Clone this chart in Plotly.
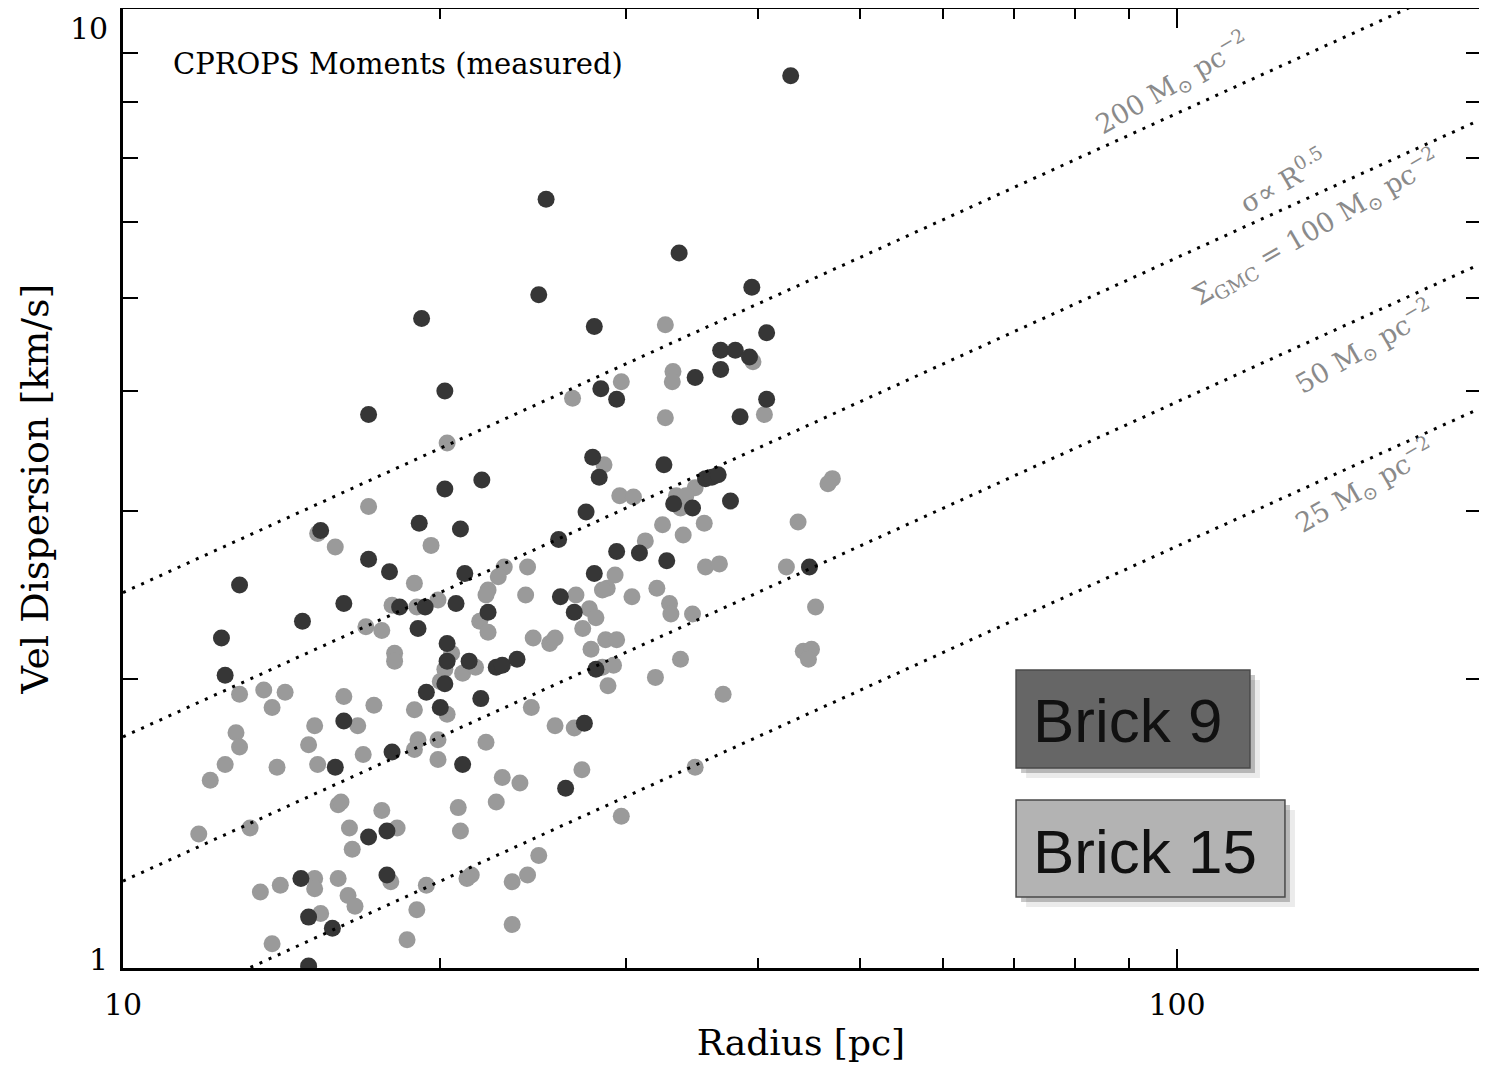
import math
import numpy as np
import plotly.graph_objects as go

# ---------------- data ----------------
# Brick 9 (dark points): radius [pc], velocity dispersion [km/s]
b9_radius = [43.0, 25.2, 33.7, 24.8, 39.5, 19.2, 28.0, 40.8, 36.9, 38.1,
             39.3, 36.9, 34.9, 28.4, 20.2, 29.4, 40.8, 17.1, 38.5, 27.9,
             32.6, 28.3, 35.7, 36.2, 36.7, 21.9, 20.2, 33.3, 34.7, 37.7,
             27.5, 19.1, 20.9, 15.4, 25.9, 29.4, 30.9, 17.1, 32.8, 44.8,
             17.9, 21.1, 28.0, 12.9, 26.0, 20.7, 16.2, 18.3, 19.35, 22.2,
             26.8, 14.8, 19.05, 12.4, 20.3, 21.3, 20.3, 22.6, 22.9, 23.65,
             28.1, 12.5, 20.2, 19.4, 21.85, 20.0, 16.2, 27.4, 18.0, 15.9,
             21.0, 26.3, 17.1, 17.8, 17.8, 14.75, 15.0, 15.8, 15.0]
b9_sigma = [8.53, 6.34, 5.57, 5.04, 5.13, 4.76, 4.67, 4.60, 4.41, 4.41,
            4.34, 4.21, 4.13, 4.02, 4.00, 3.92, 3.92, 3.78, 3.76, 3.41,
            3.35, 3.25, 3.24, 3.25, 3.27, 3.23, 3.16, 3.05, 3.02, 3.07,
            2.99, 2.91, 2.87, 2.86, 2.80, 2.72, 2.71, 2.67, 2.66, 2.62,
            2.59, 2.58, 2.58, 2.51, 2.44, 2.40, 2.40, 2.38, 2.38, 2.35,
            2.35, 2.30, 2.26, 2.21, 2.18, 2.09, 2.09, 2.06, 2.07, 2.10,
            2.05, 2.02, 1.98, 1.94, 1.91, 1.87, 1.81, 1.80, 1.68, 1.62,
            1.63, 1.54, 1.37, 1.39, 1.25, 1.24, 1.13, 1.10, 1.005]

# Brick 15 (light points)
b15_radius = [26.7, 29.7, 20.3, 32.7, 39.6, 33.25, 33.2, 40.6, 32.7, 17.1,
              15.3, 15.9, 18.9, 18.0, 17.0, 17.6, 18.1, 18.1, 12.9, 13.6,
              14.25, 13.85, 16.2, 17.3, 28.6, 29.6, 19.6, 23.0, 24.2, 22.7,
              29.3, 28.8, 28.5, 22.2, 22.1, 24.1, 26.9, 19.0, 19.9, 27.7,
              28.1, 21.8, 22.2, 27.3, 24.5, 25.4, 25.7, 27.8, 28.7, 29.4,
              20.5, 20.2, 21.0, 21.6, 28.5, 29.2, 28.85, 20.0, 18.9, 24.4,
              34.9, 30.5, 33.5, 34.2, 33.8, 47.1, 46.65, 32.5, 34.0, 35.6,
              43.7, 31.3, 35.7, 36.8, 42.6, 32.1, 30.4, 33.0, 33.1, 34.7,
              45.4, 33.8, 44.2, 45.0, 44.7, 32.0, 37.1, 12.8, 12.9, 12.5,
              12.1, 14.0, 15.2, 16.7, 15.0, 15.3, 16.9, 16.0, 16.1, 17.6,
              16.4, 18.2, 16.5, 11.8, 13.2, 13.5, 14.1, 15.2, 15.2, 16.0,
              16.35, 16.6, 17.95, 15.4, 13.85, 20.3, 25.7, 26.8, 19.05, 18.9,
              19.9, 19.9, 22.1, 22.9, 23.8, 27.25, 20.8, 22.6, 20.9, 29.7,
              24.8, 19.4, 21.2, 21.4, 23.4, 24.2, 19.0, 23.4, 18.6, 34.9]
b15_sigma = [3.93, 4.09, 3.53, 4.69, 4.29, 4.19, 4.09, 3.78, 3.75, 3.03,
             2.84, 2.75, 2.52, 2.39, 2.27, 2.25, 2.13, 2.09, 1.93, 1.95,
             1.94, 1.87, 1.92, 1.88, 3.35, 3.11, 2.76, 2.62, 2.62, 2.56,
             2.57, 2.49, 2.48, 2.48, 2.45, 2.45, 2.45, 2.38, 2.42, 2.37,
             2.32, 2.30, 2.24, 2.26, 2.21, 2.18, 2.21, 2.15, 2.20, 2.20,
             2.13, 2.05, 2.03, 2.06, 2.06, 2.07, 1.97, 1.99, 1.86, 1.87,
             3.17, 3.10, 3.11, 3.11, 3.02, 3.24, 3.20, 2.90, 2.83, 2.91,
             2.92, 2.79, 2.62, 2.64, 2.62, 2.49, 2.44, 2.40, 2.34, 2.34,
             2.38, 2.10, 2.14, 2.15, 2.10, 2.01, 1.93, 1.76, 1.70, 1.63,
             1.57, 1.62, 1.79, 1.79, 1.71, 1.63, 1.67, 1.48, 1.49, 1.46,
             1.40, 1.40, 1.33, 1.38, 1.40, 1.20, 1.22, 1.24, 1.21, 1.24,
             1.19, 1.16, 1.23, 1.14, 1.06, 1.84, 1.79, 1.78, 1.73, 1.69,
             1.73, 1.65, 1.72, 1.58, 1.56, 1.61, 1.47, 1.49, 1.39, 1.44,
             1.31, 1.22, 1.24, 1.25, 1.23, 1.25, 1.15, 1.11, 1.07, 1.62]

# constant surface-density model lines: sigma = C * sqrt(Sigma * R)
surface_densities = [200, 100, 50, 25]
SIGMA_COEFF = 0.0551

x_tick_vals = [10, 100]
x_tick_text = ["10", "100"]
x_minor_vals = [20, 30, 40, 50, 60, 70, 80, 90]
y_tick_vals = [1, 10]
y_tick_text = ["1", "10"]
y_minor_vals = [2, 3, 4, 5, 6, 7, 8, 9]

X_LOG_RANGE = [1.0, 2.2865]
Y_LOG_RANGE = [0.0, 1.0005]

# ---------------- styles ----------------
DARK = "#363636"
LIGHT = "#9a9a9a"
SERIF = "DejaVu Serif"
LABEL_GREY = "#8a8a8a"
PLOT_W = 1356.0

fig = go.Figure()

fig.add_trace(go.Scatter(x=b15_radius, y=b15_sigma, mode="markers", name="Brick 15",
                         marker=dict(color=LIGHT, size=17, line=dict(width=0))))
fig.add_trace(go.Scatter(x=b9_radius, y=b9_sigma, mode="markers", name="Brick 9",
                         marker=dict(color=DARK, size=17, line=dict(width=0))))

r_grid = np.logspace(X_LOG_RANGE[0], X_LOG_RANGE[1], 200)
for sd in surface_densities:
    fig.add_trace(go.Scatter(x=r_grid, y=SIGMA_COEFF * np.sqrt(sd * r_grid), mode="lines",
                             name=f"{sd} Msun/pc2", hoverinfo="skip",
                             line=dict(color="black", width=3, dash="3px,7px")))

# empty trace that carries the mirrored (top / right) tick axes
fig.add_trace(go.Scatter(x=[], y=[], xaxis="x2", yaxis="y2", showlegend=False, hoverinfo="skip"))

# line labels (paper coordinates), rotated along the lines
line_labels = [
    ("200 M<sub>⊙</sub> pc<sup>−2</sup>", 0.7736, 0.9228),
    ("σ∝ R<sup>0.5</sup>", 0.8555, 0.8217),
    ("Σ<sub>GMC</sub> = 100 M<sub>⊙</sub> pc<sup>−2</sup>", 0.8798, 0.7717),
    ("50 M<sub>⊙</sub> pc<sup>−2</sup>", 0.9152, 0.6475),
    ("25 M<sub>⊙</sub> pc<sup>−2</sup>", 0.9152, 0.5026),
]
for txt, px, py in line_labels:
    fig.add_annotation(text=txt, x=px, y=py, xref="paper", yref="paper",
                       showarrow=False, textangle=-30, xanchor="center", yanchor="middle",
                       font=dict(family=SERIF, size=27, color=LABEL_GREY))

fig.add_annotation(text="CPROPS Moments (measured)", x=0.0352, y=0.9427, xref="paper", yref="paper",
                   showarrow=False, xanchor="left", yanchor="middle",
                   font=dict(family=SERIF, size=29, color="black"))

# y tick labels (placed like the reference: just inside the axis ends)
y_label_anchor = [("bottom", -11), ("top", 0)]
for val, txt, (anchor, shift) in zip(y_tick_vals, y_tick_text, y_label_anchor):
    fig.add_annotation(text=txt, x=-13 / PLOT_W, y=math.log10(val), xref="paper", yref="y",
                       showarrow=False, xanchor="right", yanchor=anchor, yshift=shift,
                       font=dict(family=SERIF, size=30, color="black"))

# legend boxes
boxes = [
    ("Brick 9", "#666666", 0.6586, 0.8311, 0.2086, 0.3107, 0.2586),
    ("Brick 15", "#b3b3b3", 0.6586, 0.8569, 0.0740, 0.1752, 0.1220),
]
dx, dy = 5 / PLOT_W, 5 / 959
for label, fill, x0, x1, y0, y1, ty in boxes:
    fig.add_shape(type="rect", xref="paper", yref="paper", x0=x0 + 2 * dx, x1=x1 + 2 * dx,
                  y0=y0 - 2 * dy, y1=y1 - 2 * dy, fillcolor="rgba(0,0,0,0.08)", line=dict(width=0))
    fig.add_shape(type="rect", xref="paper", yref="paper", x0=x0 + dx, x1=x1 + dx,
                  y0=y0 - dy, y1=y1 - dy, fillcolor="rgba(0,0,0,0.22)", line=dict(width=0))
    fig.add_shape(type="rect", xref="paper", yref="paper", x0=x0, x1=x1, y0=y0, y1=y1,
                  fillcolor=fill, line=dict(color="#4a4a4a", width=1.5))
    fig.add_annotation(text=label, x=0.6695, y=ty, xref="paper", yref="paper", showarrow=False,
                       xanchor="left", yanchor="middle",
                       font=dict(family="Liberation Sans", size=62, color="#111111"))

axis_common = dict(type="log", showgrid=False, zeroline=False, showline=True, linecolor="black",
                   linewidth=3, ticks="inside", tickwidth=2, tickcolor="black", mirror=True,
                   tickfont=dict(family=SERIF, size=30, color="black"))

minor_style = dict(tickmode="array", ticks="inside", tickwidth=2, tickcolor="black", showgrid=False)

fig.update_layout(
    xaxis=dict(**axis_common, range=X_LOG_RANGE, tickmode="array", tickvals=x_tick_vals,
               ticktext=x_tick_text, ticklen=19, ticklabelstandoff=8,
               minor=dict(**minor_style, tickvals=x_minor_vals, ticklen=10),
               title=dict(text="Radius [pc]", font=dict(family=SERIF, size=36, color="black"),
                          standoff=22)),
    yaxis=dict(**axis_common, range=Y_LOG_RANGE, tickmode="array", tickvals=y_tick_vals,
               showticklabels=False, ticklen=26,
               minor=dict(**minor_style, tickvals=y_minor_vals, ticklen=15),
               title=dict(text="Vel Dispersion [km/s]", font=dict(family=SERIF, size=38, color="black"),
                          standoff=60)),
    xaxis2=dict(type="log", overlaying="x", side="top", anchor="y2", range=X_LOG_RANGE,
                tickmode="array", tickvals=[100], ticks="inside", ticklen=19, tickwidth=2,
                tickcolor="black", showticklabels=False, showline=False, showgrid=False,
                zeroline=False, minor=dict(**minor_style, tickvals=x_minor_vals, ticklen=10)),
    yaxis2=dict(type="log", overlaying="y", side="right", anchor="x2", range=Y_LOG_RANGE,
                tickmode="array", tickvals=[], ticks="inside", ticklen=26, tickwidth=2,
                tickcolor="black", showticklabels=False, showline=False, showgrid=False,
                zeroline=False, minor=dict(**minor_style, tickvals=y_minor_vals, ticklen=13)),
)

# the page adds an 8px body margin on every side, so the figure is 16px smaller than the window
fig.update_layout(width=1471, height=1055, margin=dict(l=115, r=0, t=1, b=95, autoexpand=False),
                  plot_bgcolor="white", paper_bgcolor="white", showlegend=False)

fig.write_html("out.html")
